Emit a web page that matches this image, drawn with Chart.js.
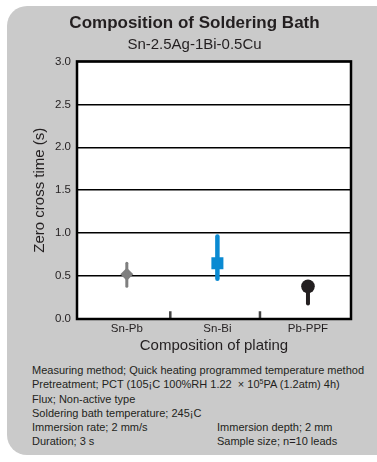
<!DOCTYPE html>
<html>
<head>
<meta charset="utf-8">
<script src="https://cdn.jsdelivr.net/npm/chart.js@4"></script>
<style>
  body { margin: 0; background: #fff; width: 377px; height: 462px; overflow: hidden; position: relative; font-family: "Liberation Sans", Arial, sans-serif; }
  #card { position: absolute; left: 7px; top: 6px; width: 400px; height: 449px; border-radius: 20px; background: #cacaca; }
  #wrap { position: absolute; left: 0; top: 0; width: 377px; height: 360px; }
  #notes { position: absolute; left: 32px; top: 363px; font-size: 11px; line-height: 14.3px; color: #231f20; white-space: nowrap; }
  #notes .col2 { position: absolute; left: 185px; }
  sup { font-size: 7px; line-height: 0; vertical-align: 4px; }
</style>
</head>
<body>
<div id="card"></div>
<div id="wrap"><canvas id="ichart" width="377" height="360"></canvas></div>
<div id="notes">
  <div>Measuring method; Quick heating programmed temperature method</div>
  <div>Pretreatment; PCT (105¡C 100%RH 1.22 &nbsp;× 10<sup>5</sup>PA (1.2atm) 4h)</div>
  <div>Flux; Non-active type</div>
  <div>Soldering bath temperature; 245¡C</div>
  <div>Immersion rate; 2 mm/s<span class="col2">Immersion depth; 2 mm</span></div>
  <div>Duration; 3 s<span class="col2">Sample size; n=10 leads</span></div>
</div>
<script>
// Plating compositions along the x axis
const categories = ["Sn-Pb", "Sn-Bi", "Pb-PPF"];
// Zero cross time (s): typical value, and the spread of the range bar
const typical = [0.52, 0.65, 0.38];
const minimum = [0.38, 0.47, 0.18];
const maximum = [0.65, 0.96, 0.40];
// y axis tick values
const yTicks = [0.0, 0.5, 1.0, 1.5, 2.0, 2.5, 3.0];
// separators between the categories
const separators = [1.48, 2.47];

const colors = ["#7f7f7f", "#0a8ad2", "#231f20"];
const markerStyle = ["rectRot", "rect", "circle"];
const markerSize = [6.5, 8.5, 6.8];
const rangeWidth = [3, 4.5, 4];

const txt = "#231f20";
const font = "'Liberation Sans', Arial, sans-serif";

//Range bars, one line dataset for each plating
const datasets = categories.map((c, i) => ({
    type : "line",
    data : [{x : i + 1, y : minimum[i]}, {x : i + 1, y : maximum[i]}],
    borderColor : colors[i],
    borderWidth : rangeWidth[i],
    borderCapStyle : "round",
    pointRadius : 0
}));

//Typical values
datasets.push({
    type : "scatter",
    data : categories.map((c, i) => ({x : i + 1, y : typical[i]})),
    pointStyle : markerStyle,
    pointRadius : markerSize,
    backgroundColor : colors,
    borderWidth : 0
});

//Small separator marks on the bottom of the plot
datasets.push({
    type : "scatter",
    data : separators.map(s => ({x : s, y : 0.045})),
    pointStyle : "line",
    rotation : 90,
    pointRadius : 4,
    borderColor : "#444",
    borderWidth : 2.5
});

const plotFrame = {
    id : "plotFrame",
    beforeDraw(chart) {
        const a = chart.chartArea;
        chart.ctx.save();
        chart.ctx.fillStyle = "#fff";
        chart.ctx.fillRect(a.left, a.top, a.right - a.left, a.bottom - a.top);
        chart.ctx.restore();
    },
    afterDraw(chart) {
        const a = chart.chartArea;
        const ctx = chart.ctx;
        ctx.save();
        ctx.strokeStyle = "#000";
        ctx.lineWidth = 2.5;
        ctx.strokeRect(a.left, a.top, a.right - a.left, a.bottom - a.top);
        ctx.restore();
    }
};

new Chart("ichart", {
    type : "scatter",
    data : { datasets : datasets },
    plugins : [plotFrame],
    options : {
        responsive : false,
        animation : false,
        layout : { padding : { left : 12, right : 0, top : 0, bottom : 0 } },
        plugins : {
            legend : { display : false },
            tooltip : { enabled : false },
            title : {
                display : true,
                text : "Composition of Soldering Bath",
                color : txt,
                font : { family : font, size : 17, weight : "bold" },
                padding : { top : 13, bottom : 1 }
            },
            subtitle : {
                display : true,
                text : "Sn-2.5Ag-1Bi-0.5Cu",
                color : txt,
                font : { family : font, size : 15 },
                padding : { top : 1, bottom : 8 }
            }
        },
        scales : {
            x : {
                type : "linear",
                min : 0.45,
                max : 3.475,
                grid : { display : false, drawTicks : false },
                border : { display : false },
                afterBuildTicks : s => { s.ticks = categories.map((c, i) => ({ value : i + 1 })); },
                afterFit : s => { s.height = 41; },
                ticks : {
                    padding : 3,
                    color : txt,
                    font : { family : font, size : 11.5 },
                    callback : v => categories[v - 1]
                },
                title : {
                    display : true,
                    text : "Composition of plating",
                    color : txt,
                    font : { family : font, size : 15 },
                    padding : { top : 0, bottom : 5 }
                }
            },
            y : {
                min : 0,
                max : 3,
                grid : { color : "#000", lineWidth : 1.5, drawTicks : false },
                border : { display : false },
                afterBuildTicks : s => { s.ticks = yTicks.map(v => ({ value : v })); },
                afterFit : s => { s.width = 65; },
                ticks : {
                    padding : 6,
                    color : txt,
                    font : { family : font, size : 11.5 },
                    callback : v => v.toFixed(1)
                },
                title : {
                    display : true,
                    text : "Zero cross time (s)",
                    color : txt,
                    font : { family : font, size : 15 },
                    padding : { top : 19, bottom : 0 }
                }
            },
            yRight : {
                position : "right",
                display : true,
                grid : { display : false },
                border : { display : false },
                ticks : { display : false },
                afterFit : s => { s.width = 26; }
            }
        }
    }
});
</script>
</body>
</html>
